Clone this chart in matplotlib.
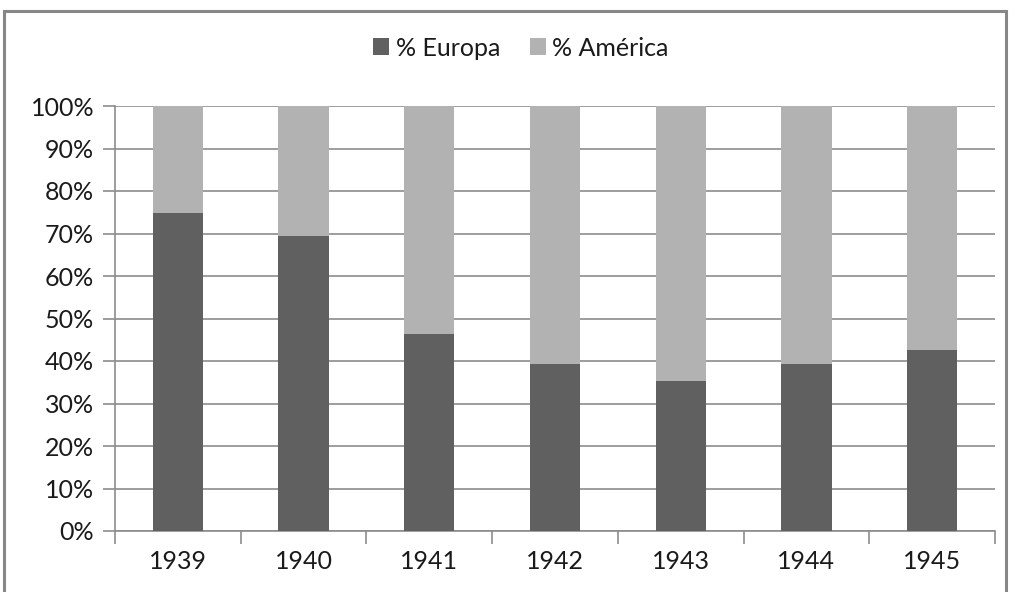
import matplotlib
matplotlib.use("Agg")
import matplotlib.pyplot as plt
from matplotlib.patches import Rectangle
from matplotlib.ticker import FixedLocator, PercentFormatter

years = ["1939", "1940", "1941", "1942", "1943", "1944", "1945"]
europa = [74.8, 69.3, 46.3, 39.2, 35.3, 39.2, 42.5]
america = [100 - v for v in europa]

plt.rcParams['font.family'] = ['Lato', 'DejaVu Sans']

W, H = 1011, 592
fig = plt.figure(figsize=(W / 100, H / 100), dpi=100)
fig.patch.set_facecolor('white')

# outer chart frame (top part; bottom runs off the image)
fig.patches.append(Rectangle((4 / W, -0.05), 1002 / W, 1.05 - 11 / H,
                             transform=fig.transFigure, fill=False,
                             edgecolor='#878787', linewidth=2.2, zorder=0))

ax = fig.add_axes([115 / W, (H - 531) / H, 880 / W, 425 / H])
x = list(range(len(years)))
b1 = ax.bar(x, europa, width=0.4, color='#606060', label='% Europa', zorder=3)
b2 = ax.bar(x, america, width=0.4, bottom=europa, color='#b2b2b2',
            label='% América', zorder=3)

ax.set_xlim(-0.5, len(years) - 0.5)
ax.set_ylim(0, 100)
ax.set_yticks(range(0, 101, 10))
ax.yaxis.set_major_formatter(PercentFormatter(decimals=0))
ax.yaxis.grid(True, color='#8c8c8c', linewidth=1.2, zorder=0)
ax.set_axisbelow(True)

ax.set_xticks(x)
ax.set_xticklabels(years)
ax.xaxis.set_minor_locator(FixedLocator([i - 0.5 for i in range(len(years) + 1)]))
ax.tick_params(axis='x', which='major', length=0, pad=14, labelsize=18, labelcolor='#1a1a1a')
ax.tick_params(axis='x', which='minor', length=9, color='#8c8c8c', width=1.2)
ax.tick_params(axis='y', which='major', length=9, color='#8c8c8c', width=1.2,
               pad=6, labelsize=18, labelcolor='#1a1a1a')

for s in ['top', 'right']:
    ax.spines[s].set_visible(False)
for s in ['left', 'bottom']:
    ax.spines[s].set_color('#8c8c8c')
    ax.spines[s].set_linewidth(1.2)

fig.legend(handles=[b1, b2], labels=['% Europa', '% América'],
           loc='center', bbox_to_anchor=(521 / W, 1 - 48 / H), ncol=2,
           frameon=False, fontsize=18, handlelength=0.65, handleheight=0.65,
           handletextpad=0.25, columnspacing=1.2, labelcolor='#1a1a1a')

fig.savefig('out.png', dpi=100)
